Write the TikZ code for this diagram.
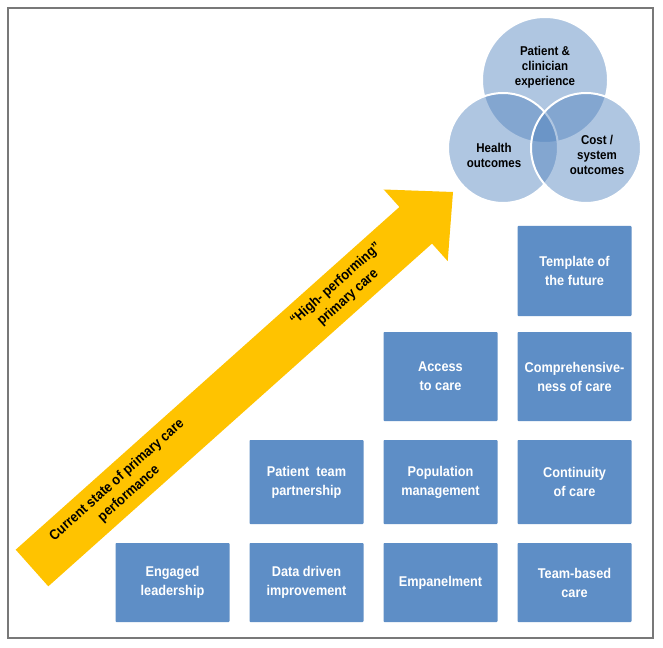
\documentclass[tikz,border=0pt]{standalone}
\usepackage{fontspec}
\setmainfont{Liberation Sans}[FakeStretch=0.9]
\definecolor{boxblue}{RGB}{94,142,198}
\definecolor{circblue}{RGB}{79,129,189}
\definecolor{arrowyellow}{RGB}{255,195,0}
\definecolor{framegray}{RGB}{120,120,120}
\begin{document}
\begin{tikzpicture}[x=0.75pt,y=-0.75pt,
  box/.style={fill=boxblue, text=white, font=\bfseries\fontsize{10.6}{14.25}\selectfont,
    align=center, minimum width=85.5pt, inner sep=0pt, rounded corners=0.6pt},
  venn/.style={circle, fill=circblue, fill opacity=0.45, draw=white, line width=1.5pt, inner sep=0pt},
  venntext/.style={font=\bfseries\fontsize{9.6}{11.25}\selectfont, align=center, text=black},
  arrowtext/.style={font=\bfseries\fontsize{10.6}{13.5}\selectfont, align=center, text=black, rotate=41.77}]
\useasboundingbox (0,0) rectangle (663,648);
\fill[white] (0,0) rectangle (663,648);
\draw[framegray, line width=1.1pt] (8,8) rectangle (653,638);

% yellow arrow
\fill[arrowyellow] (15.7,549.7) -- (399.4,207.0) -- (383.7,189.5) -- (453,192)
  -- (447.7,261.1) -- (432.0,243.6) -- (48.3,586.3) -- cycle;
\node[arrowtext] (cur) at (123,487) {Current state of primary care\\performance};
\node[arrowtext] (high) at (342,291) {“High- performing”\\primary care};

% Venn circles
\node[venn, minimum size=94.5pt] (ctop) at (545,80) {};
\node[venn, minimum size=82.5pt] (cleft) at (503,148) {};
\node[venn, minimum size=82.5pt] (cright) at (586,148) {};
\node[venntext] (tpce) at (545,67) {Patient \&\\clinician\\experience};
\node[venntext] (thealth) at (494,155) {Health\\outcomes};
\node[venntext] (tcost) at (597,155) {Cost /\\system\\outcomes};

% boxes row 1
\node[box, minimum height=59.25pt] (eng) at (172.5,582.5) {Engaged\\leadership};
\node[box, minimum height=59.25pt] (data) at (306.5,582.5) {Data driven\\improvement};
\node[box, minimum height=59.25pt] (empan) at (440.5,582.5) {Empanelment};
\node[box, minimum height=59.25pt] (teamb) at (574.5,582.5) {Team-based\\care};
% row 2
\node[box, minimum height=63pt] (ptp) at (306.5,482) {Patient~~team\\partnership};
\node[box, minimum height=63pt] (pop) at (440.5,482) {Population\\management};
\node[box, minimum height=63pt] (cont) at (574.5,482) {Continuity\\of care};
% row 3
\node[box, minimum height=66.75pt] (access) at (440.5,376.5) {Access\\ to care};
\node[box, minimum height=66.75pt] (compr) at (574.5,376.5) {Comprehensive-\\ness of care};
% row 4
\node[box, minimum height=67.5pt] (templ) at (574.5,271) {Template of\\the future};
\end{tikzpicture}
\end{document}
